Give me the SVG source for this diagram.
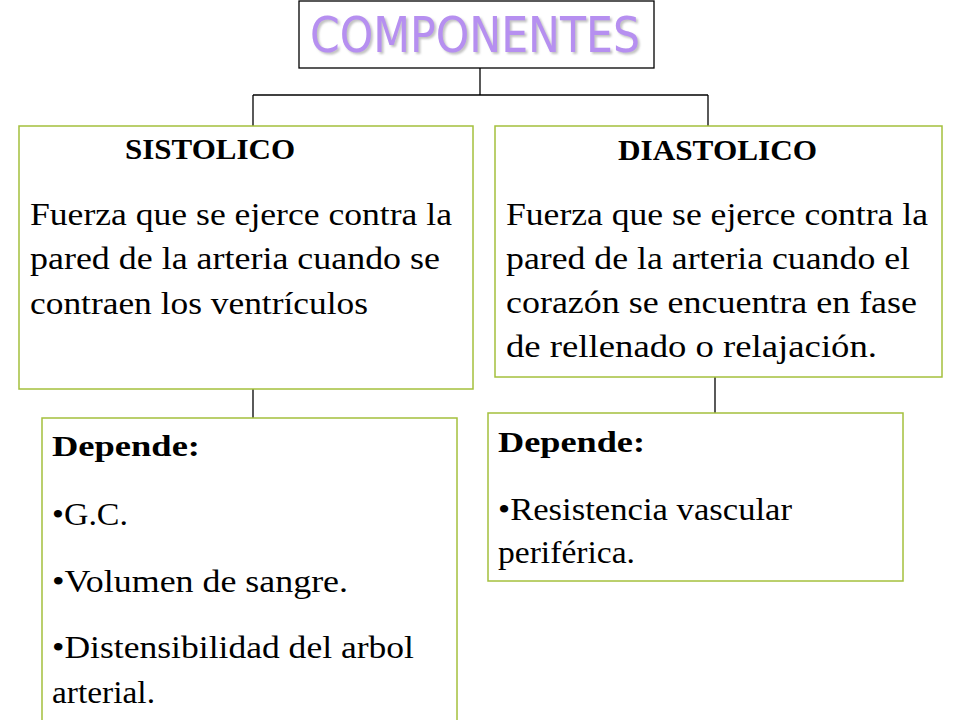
<svg xmlns="http://www.w3.org/2000/svg" width="960" height="720" viewBox="0 0 960 720">
<defs>
<filter id="sh" x="-5%" y="-20%" width="110%" height="140%">
<feDropShadow dx="2" dy="2" stdDeviation="1.2" flood-color="#9a9a9a" flood-opacity="0.6"/>
</filter>
<style>
.box{fill:#ffffff;stroke:#a4c03c;stroke-width:1.5}
.top{fill:#ffffff;stroke:#000000;stroke-width:1.3}
.ln{stroke:#000000;stroke-width:1.3;fill:none}
.body{font-family:"Liberation Serif","Times New Roman",serif;font-size:31px;fill:#000000}
.head{font-family:"Liberation Serif","Times New Roman",serif;font-size:29px;font-weight:bold;fill:#000000}
.title{font-family:"DejaVu Sans","Liberation Sans",sans-serif;font-size:50px;fill:#b68ff0}
</style>
</defs>
<rect width="960" height="720" fill="#ffffff"/>
<g id="connectors">
<line class="ln" x1="480" y1="68" x2="480" y2="95"/>
<line class="ln" x1="253" y1="95" x2="708" y2="95"/>
<line class="ln" x1="253" y1="95" x2="253" y2="126"/>
<line class="ln" x1="708" y1="95" x2="708" y2="126"/>
<line class="ln" x1="253" y1="389" x2="253" y2="418"/>
<line class="ln" x1="715" y1="377" x2="715" y2="413"/>
</g>
<g id="componentes">
<rect class="top" x="299" y="1" width="355" height="67"/>
<text class="title" x="310" y="52" textLength="330" lengthAdjust="spacingAndGlyphs" filter="url(#sh)">COMPONENTES</text>
</g>
<g id="sistolico">
<rect class="box" x="19" y="126" width="454" height="263"/>
<text class="head" x="125" y="159" textLength="170" lengthAdjust="spacingAndGlyphs">SISTOLICO</text>
<text class="body" x="30" y="225" textLength="422" lengthAdjust="spacingAndGlyphs">Fuerza que se ejerce contra la</text>
<text class="body" x="30" y="269" textLength="410" lengthAdjust="spacingAndGlyphs">pared de la arteria cuando se</text>
<text class="body" x="30" y="314" textLength="338" lengthAdjust="spacingAndGlyphs">contraen los ventrículos</text>
</g>
<g id="diastolico">
<rect class="box" x="495" y="126" width="447" height="251"/>
<text class="head" x="618" y="160" textLength="199" lengthAdjust="spacingAndGlyphs">DIASTOLICO</text>
<text class="body" x="506" y="225" textLength="422" lengthAdjust="spacingAndGlyphs">Fuerza que se ejerce contra la</text>
<text class="body" x="506" y="269" textLength="404" lengthAdjust="spacingAndGlyphs">pared de la arteria cuando el</text>
<text class="body" x="506" y="313" textLength="411" lengthAdjust="spacingAndGlyphs">corazón se encuentra en fase</text>
<text class="body" x="506" y="357" textLength="371" lengthAdjust="spacingAndGlyphs">de rellenado o relajación.</text>
</g>
<g id="depende-sistolico">
<rect class="box" x="42" y="418" width="415" height="310"/>
<text class="head" x="52" y="456" textLength="148" lengthAdjust="spacingAndGlyphs">Depende:</text>
<text class="body" x="52" y="525" textLength="76" lengthAdjust="spacingAndGlyphs">•G.C.</text>
<text class="body" x="52" y="592" textLength="296" lengthAdjust="spacingAndGlyphs">•Volumen de sangre.</text>
<text class="body" x="52" y="658" textLength="362" lengthAdjust="spacingAndGlyphs">•Distensibilidad del arbol</text>
<text class="body" x="52" y="703" textLength="103" lengthAdjust="spacingAndGlyphs">arterial.</text>
</g>
<g id="depende-diastolico">
<rect class="box" x="488" y="413" width="415" height="168"/>
<text class="head" x="498" y="452" textLength="147" lengthAdjust="spacingAndGlyphs">Depende:</text>
<text class="body" x="498" y="520" textLength="294" lengthAdjust="spacingAndGlyphs">•Resistencia vascular</text>
<text class="body" x="498" y="563" textLength="137" lengthAdjust="spacingAndGlyphs">periférica.</text>
</g>
</svg>
